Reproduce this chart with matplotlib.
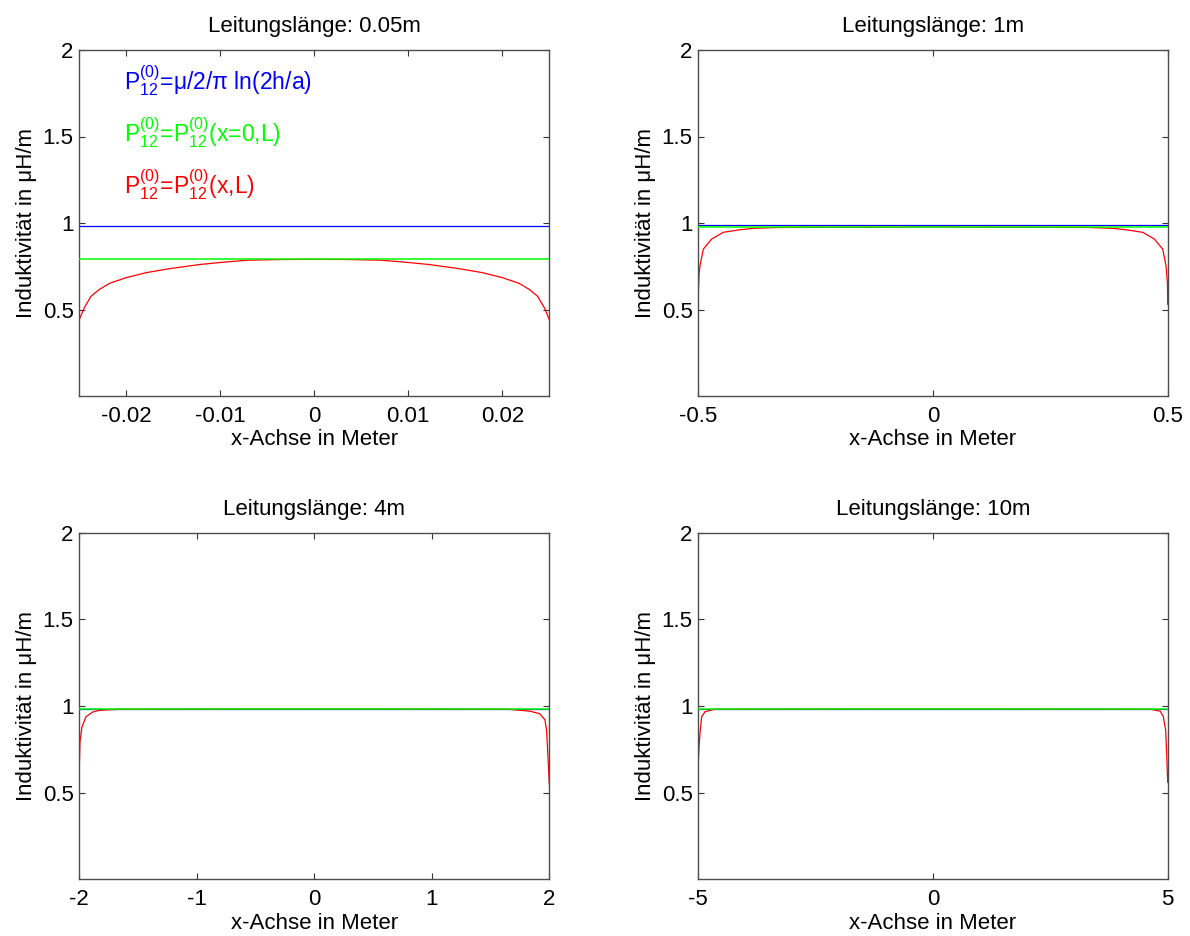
import numpy as np
import matplotlib
matplotlib.use("Agg")
import matplotlib.pyplot as plt

plt.rcParams['font.family'] = ['Liberation Sans', 'DejaVu Sans']
plt.rcParams['mathtext.fontset'] = 'custom'
plt.rcParams['mathtext.rm'] = 'Liberation Sans'
plt.rcParams['mathtext.it'] = 'Liberation Sans'
plt.rcParams['mathtext.default'] = 'regular'

# line lengths / titles
lengths = ['0.05m', '1m', '4m', '10m']
xlims = [(-0.025, 0.025), (-0.5, 0.5), (-2, 2), (-5, 5)]
xticks = [[-0.02, -0.01, 0, 0.01, 0.02], [-0.5, 0, 0.5], [-2, -1, 0, 1, 2], [-5, 0, 5]]
xticklabels = [['-0.02', '-0.01', '0', '0.01', '0.02'], ['-0.5', '0', '0.5'],
               ['-2', '-1', '0', '1', '2'], ['-5', '0', '5']]

# P12 = mu/2/pi ln(2h/a)
p_blue = [0.984, 0.988, 0.984, 0.984]
# P12(x=0,L)
p_green = [0.790, 0.976, 0.984, 0.984]

# P12(x,L)
x_red1 = [-0.025, -0.02447, -0.02375, -0.02287, -0.0218, -0.02002, -0.01789, -0.0154,
          -0.01221, -0.00936, -0.00706, -0.0035, 0,
          0.0035, 0.00706, 0.00936, 0.01221, 0.0154, 0.01789, 0.02002, 0.0218,
          0.02287, 0.02375, 0.02447, 0.025]
y_red1 = [0.442, 0.510, 0.577, 0.616, 0.651, 0.684, 0.713, 0.736,
          0.760, 0.775, 0.785, 0.789, 0.790,
          0.789, 0.785, 0.775, 0.760, 0.736, 0.713, 0.684, 0.651,
          0.616, 0.577, 0.510, 0.442]
x_red2 = [-0.5, -0.4985, -0.4965, -0.4893, -0.4716, -0.447, -0.4113, -0.383, -0.333, 0,
          0.333, 0.383, 0.4113, 0.447, 0.4716, 0.4893, 0.4965, 0.4995, 0.5]
y_red2 = [0.587, 0.70, 0.752, 0.849, 0.907, 0.946, 0.961, 0.969, 0.974, 0.976,
          0.974, 0.969, 0.961, 0.946, 0.907, 0.849, 0.752, 0.65, 0.53]
x_red3 = [-2, -1.994, -1.977, -1.943, -1.887, -1.829, -1.644, 0,
          1.637, 1.836, 1.92, 1.963, 1.977, 1.99, 2.0]
y_red3 = [0.65, 0.794, 0.88, 0.938, 0.965, 0.975, 0.982, 0.984,
          0.982, 0.97, 0.955, 0.92, 0.86, 0.69, 0.55]
x_red4 = [-5, -4.985, -4.964, -4.928, -4.857, -4.644, 0,
          4.624, 4.84, 4.906, 4.957, 4.98, 5.0]
y_red4 = [0.678, 0.76, 0.842, 0.938, 0.967, 0.982, 0.984,
          0.982, 0.97, 0.94, 0.86, 0.71, 0.56]
x_red = [x_red1, x_red2, x_red3, x_red4]
y_red = [y_red1, y_red2, y_red3, y_red4]

legend_texts = [r'$P_{12}^{(0)}$=μ/2/π ln(2h/a)',
                r'$P_{12}^{(0)}$=$P_{12}^{(0)}$(x=0,L)',
                r'$P_{12}^{(0)}$=$P_{12}^{(0)}$(x,L)']
legend_colors = ['#0000ff', '#00ff00', '#ff0000']

W, H = 1190, 936
fig = plt.figure(figsize=(W / 100, H / 100), dpi=100)
# axes boxes in pixels: left, top, right, bottom
boxes = [(79.3, 50, 549.3, 396), (698.3, 50, 1167.7, 396),
         (79.3, 532.7, 549.3, 879.3), (698.3, 532.7, 1167.7, 879.3)]

fs = 16
for i, (l, t, r, b) in enumerate(boxes):
    ax = fig.add_axes([l / W, 1 - b / H, (r - l) / W, (b - t) / H])
    xl = xlims[i]
    ax.plot(xl, [p_blue[i]] * 2, color='#0000ff', lw=0.9, zorder=1)
    ax.plot(x_red[i], y_red[i], color='#ff0000', lw=0.9, zorder=2)
    ax.plot(xl, [p_green[i]] * 2, color='#00ff00', lw=1.1, zorder=3)
    ax.set_xlim(xl)
    ax.set_ylim(0, 2)
    ax.set_xticks(xticks[i])
    ax.set_xticklabels(xticklabels[i])
    ax.set_yticks([0.5, 1, 1.5, 2])
    ax.set_yticklabels(['0.5', '1', '1.5', '2'])
    ax.tick_params(direction='in', top=True, right=True, length=4, width=0.8,
                   labelsize=fs, pad=4, color='0.2')
    ax.tick_params(axis='x', pad=7)
    for s in ax.spines.values():
        s.set_color('0.3')
        s.set_linewidth(1.0)
    ax.set_title('Leitungslänge: ' + lengths[i], fontsize=fs, pad=13)
    ax.set_xlabel('x-Achse in Meter', fontsize=fs, labelpad=2)
    ax.set_ylabel('Induktivität in μH/m', fontsize=fs, labelpad=4)
    if i == 0:
        for k, (txt, c) in enumerate(zip(legend_texts, legend_colors)):
            ax.text(-0.0202, 1.77 - 0.3 * k, txt, color=c, fontsize=16.5, va='baseline')

fig.savefig('out.png', dpi=100)
